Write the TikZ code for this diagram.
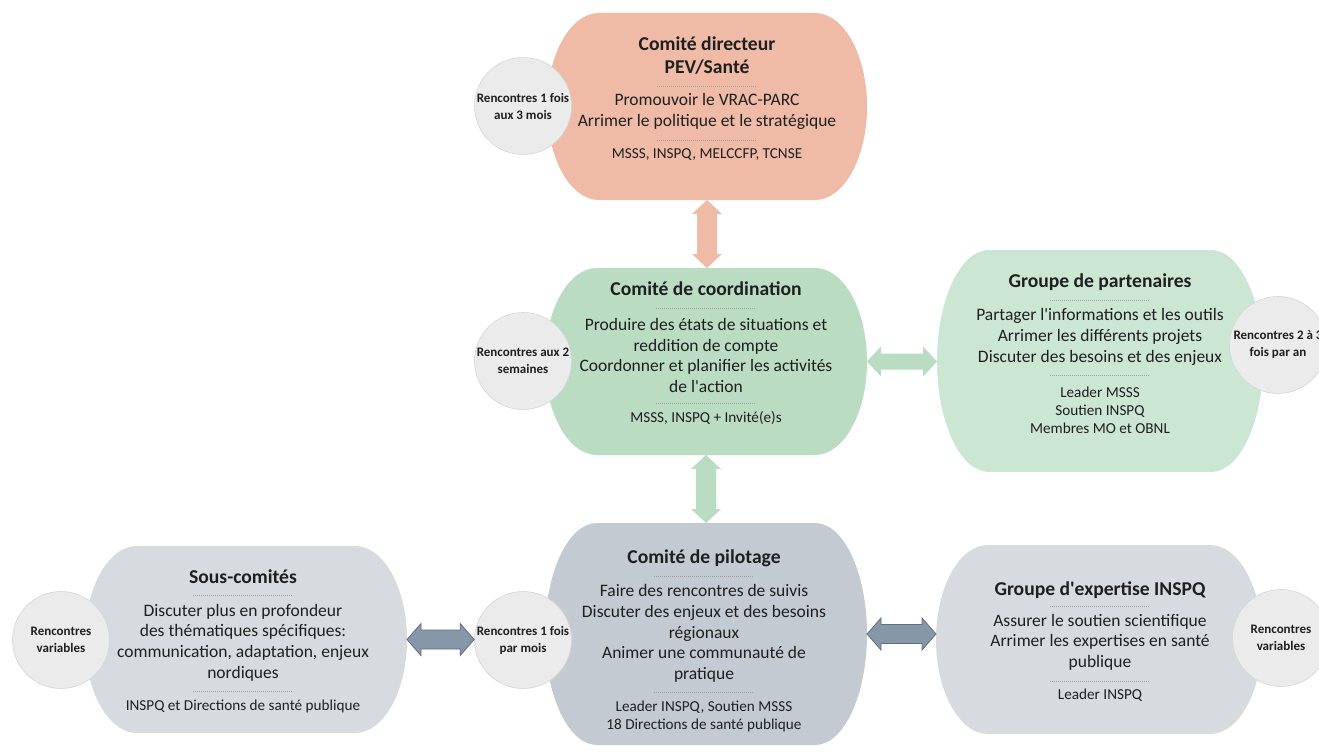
\documentclass[tikz,border=0pt]{standalone}
\usepackage{fontspec}
\setmainfont{Carlito}
\usetikzlibrary{calc}
\definecolor{orangeF}{HTML}{EFBBA7}
\definecolor{greenD}{HTML}{BADCC3}
\definecolor{greenL}{HTML}{CCE6D4}
\definecolor{grayD}{HTML}{C4CAD1}
\definecolor{grayL}{HTML}{D7DBE0}
\definecolor{circF}{HTML}{EBEBEB}
\definecolor{circB}{HTML}{D6D6D6}
\definecolor{arrG}{HTML}{8597A8}
\definecolor{arrGB}{HTML}{5F6F80}
\definecolor{txt}{HTML}{1F1F1F}
\newcommand{\termshape}[6]{%
  \node[inner sep=0pt, outer sep=0pt, minimum width=#4pt, minimum height=#5pt] (#1) at (#2,#3) {};
  \fill[#6] ([xshift=52pt]#1.north west) -- ([xshift=-52pt]#1.north east)
     arc[start angle=90, end angle=-90, x radius=52pt, y radius=#5*0.5pt]
     -- ([xshift=52pt]#1.south west)
     arc[start angle=270, end angle=90, x radius=52pt, y radius=#5*0.5pt] -- cycle;
}
\newcommand{\harrowshape}[6]{%
  \path[#6] let \p1=(#1), \p2=(#2) in
  (\x1,\y1) -- (\x1+#5pt,\y1+#4pt) -- (\x1+#5pt,\y1+#3pt) -- (\x2-#5pt,\y1+#3pt) -- (\x2-#5pt,\y1+#4pt)
  -- (\x2,\y1) -- (\x2-#5pt,\y1-#4pt) -- (\x2-#5pt,\y1-#3pt) -- (\x1+#5pt,\y1-#3pt) -- (\x1+#5pt,\y1-#4pt) -- cycle;
}
\newcommand{\varrowshape}[6]{%
  \path[#6] let \p1=(#1), \p2=(#2) in
  (\x1,\y1) -- (\x1+#4pt,\y1-#5pt) -- (\x1+#3pt,\y1-#5pt) -- (\x1+#3pt,\y2+#5pt) -- (\x1+#4pt,\y2+#5pt)
  -- (\x1,\y2) -- (\x1-#4pt,\y2+#5pt) -- (\x1-#3pt,\y2+#5pt) -- (\x1-#3pt,\y1-#5pt) -- (\x1-#4pt,\y1-#5pt) -- cycle;
}
\newcommand{\sepline}[2]{\draw[sepstyle] (#1-50,#2) -- (#1+50,#2);}
\newcommand{\q}{\textquotesingle}
\begin{document}
\begin{tikzpicture}[x=1pt,y=1pt,
  titletxt/.style={font=\fontsize{19.6}{23}\selectfont\bfseries, align=center, text=txt, inner sep=0pt},
  bodytxt/.style={font=\fontsize{17.5}{20.6}\selectfont, align=center, text=txt, inner sep=0pt},
  smalltxt/.style={font=\fontsize{15.2}{18}\selectfont, align=center, text=txt, inner sep=0pt},
  circ/.style={circle, minimum size=97pt, inner sep=0pt, fill=circF, draw=circB, line width=0.6pt,
     font=\fontsize{13}{17}\selectfont\bfseries, align=center, text=txt},
  sepstyle/.style={draw=gray!75, line width=0.5pt, dash pattern=on 1.2pt off 0.8pt}]
\useasboundingbox[fill=white] (0,0) rectangle (1319,-752);

% pills
\termshape{top}{707}{-106.5}{320}{187}{orangeF}
\termshape{coord}{706}{-361.5}{322}{187}{greenD}
\termshape{part}{1100}{-361}{326}{222}{greenL}
\termshape{sous}{246}{-639.5}{322}{187}{grayL}
\termshape{pil}{706}{-634}{322}{222}{grayD}
\termshape{expt}{1099}{-639.5}{326}{189}{grayL}

% circles
\node[circ] (ctop) at (523,-106) {Rencontres 1 fois\\aux 3 mois};
\node[circ] (ccoord) at (523,-361) {Rencontres aux 2\\semaines};
\node[circ] (cpart) at (1278,-345) {Rencontres 2 à 3\\fois par an};
\node[circ] (csous) at (61,-640) {Rencontres\\variables};
\node[circ] (cpil) at (523,-640) {Rencontres 1 fois\\par mois};
\node[circ] (cexpt) at (1281,-638) {Rencontres\\variables};

% arrows
\varrowshape{top.south}{coord.north}{10}{15}{14}{fill=orangeF}
\varrowshape{coord.south}{pil.north}{10}{15}{14}{fill=greenD}
\harrowshape{coord.east}{part.west}{8}{15}{14}{fill=greenD}
\harrowshape{sous.east}{cpil.west}{9.5}{16}{14}{fill=arrG, draw=arrGB, line width=0.8pt}
\harrowshape{pil.east}{expt.west}{9.5}{16}{14}{fill=arrG, draw=arrGB, line width=0.8pt}

% top text
\node[titletxt] (topT) at (707,-55.5) {Comité directeur\\PEV/Santé};
\sepline{707}{-86}
\node[bodytxt] (topB) at (707,-111.5) {Promouvoir le VRAC-PARC\\Arrimer le politique et le stratégique};
\sepline{707}{-140}
\node[smalltxt] (topS) at (707,-155) {MSSS, INSPQ, MELCCFP, TCNSE};

% coordination text
\node[titletxt] (coordT) at (706,-289) {Comité de coordination};
\sepline{706}{-308}
\node[bodytxt] (coordB) at (706,-355.5) {Produire des états de situations et\\reddition de compte\\Coordonner et planifier les activités\\de l\q action};
\sepline{706}{-403}
\node[smalltxt] (coordS) at (706,-418) {MSSS, INSPQ + Invité(e)s};

% partenaires text
\node[titletxt] (partT) at (1100,-282) {Groupe de partenaires};
\sepline{1100}{-300}
\node[bodytxt] (partB) at (1100,-337) {Partager l\q informations et les outils\\Arrimer les différents projets\\Discuter des besoins et des enjeux};
\sepline{1100}{-375}
\node[smalltxt] (partS) at (1100,-410) {Leader MSSS\\Soutien INSPQ\\Membres MO et OBNL};

% sous-comites text
\node[titletxt] (sousT) at (243,-577) {Sous-comités};
\sepline{243}{-595}
\node[bodytxt] (sousB) at (243,-642.5) {Discuter plus en profondeur\\des thématiques spécifiques:\\communication, adaptation, enjeux\\nordiques};
\sepline{243}{-691}
\node[smalltxt] (sousS) at (243,-706) {INSPQ et Directions de santé publique};

% pilotage text
\node[titletxt] (pilT) at (704,-558) {Comité de pilotage};
\sepline{704}{-576}
\node[bodytxt] (pilB) at (704,-633.5) {Faire des rencontres de suivis\\Discuter des enjeux et des besoins\\régionaux\\Animer une communauté de\\pratique};
\sepline{704}{-692}
\node[smalltxt] (pilS) at (704,-716.5) {Leader INSPQ, Soutien MSSS\\18 Directions de santé publique};

% expertise text
\node[titletxt] (exptT) at (1100,-590) {Groupe d\q expertise INSPQ};
\sepline{1100}{-606}
\node[bodytxt] (exptB) at (1100,-642) {Assurer le soutien scientifique\\Arrimer les expertises en santé\\publique};
\sepline{1100}{-681}
\node[smalltxt] (exptS) at (1100,-695) {Leader INSPQ};
\end{tikzpicture}
\end{document}
